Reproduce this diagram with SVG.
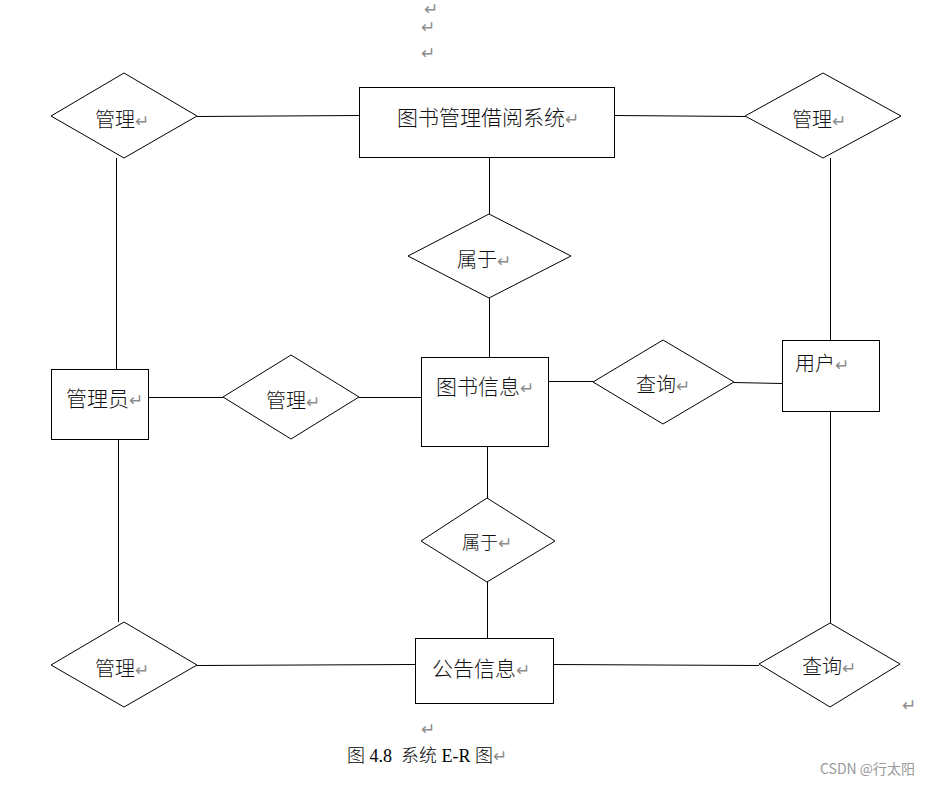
<svg xmlns="http://www.w3.org/2000/svg" width="933" height="785" viewBox="0 0 933 785">
<style>
.ent{fill:#fff;stroke:#000;stroke-width:1}
.rel{fill:#fff;stroke:#000;stroke-width:1}
.ln{stroke:#000;stroke-width:1;fill:none}
.t{font-family:"Noto Sans CJK SC","Liberation Sans",sans-serif;font-weight:300;fill:#111}
.r{fill:#8c8c8c;font-family:"DejaVu Sans",sans-serif;font-size:17px;font-weight:normal}
.cap{font-family:"Liberation Serif","Noto Sans CJK SC",serif;font-size:18px;font-weight:300;fill:#000}
.wm{font-family:"Noto Sans CJK SC","Liberation Sans",sans-serif;font-size:14px;fill:#999}
</style>
<rect width="933" height="785" fill="#fff"/>
<g id="connectors">
<line class="ln" x1="197" y1="116.5" x2="359" y2="115.5"/>
<line class="ln" x1="615" y1="115.5" x2="745" y2="116.5"/>
<line class="ln" x1="116.5" y1="158" x2="116.5" y2="369"/>
<line class="ln" x1="830.5" y1="158" x2="830.5" y2="340"/>
<line class="ln" x1="489.5" y1="157" x2="489.5" y2="214"/>
<line class="ln" x1="489.5" y1="298" x2="489.5" y2="357"/>
<line class="ln" x1="148" y1="397.5" x2="223" y2="397.5"/>
<line class="ln" x1="359" y1="397.5" x2="421" y2="397.5"/>
<line class="ln" x1="548" y1="381.5" x2="593" y2="381.5"/>
<line class="ln" x1="734" y1="382.5" x2="782" y2="383.5"/>
<line class="ln" x1="487.5" y1="446" x2="487.5" y2="498"/>
<line class="ln" x1="487.5" y1="582" x2="487.5" y2="638"/>
<line class="ln" x1="118.5" y1="439" x2="118.5" y2="622"/>
<line class="ln" x1="830.5" y1="411" x2="830.5" y2="623"/>
<line class="ln" x1="197" y1="665.5" x2="415" y2="664.5"/>
<line class="ln" x1="553" y1="664.5" x2="759" y2="665.5"/>
</g>
<g id="n-system">
<rect class="ent" x="359.5" y="87.5" width="255" height="70"/>
<text class="t" x="397" y="124.5" font-size="21">图书管理借阅系统<tspan class="r">↵</tspan></text>
</g>
<g id="d-manage-tl">
<polygon class="rel" points="51,116 124,73 197,116 124,158"/>
<text class="t" x="95" y="126.5" font-size="20">管理<tspan class="r">↵</tspan></text>
</g>
<g id="d-manage-tr">
<polygon class="rel" points="745,116 823,73 901,116 823,158"/>
<text class="t" x="792" y="126.5" font-size="20">管理<tspan class="r">↵</tspan></text>
</g>
<g id="d-belong-1">
<polygon class="rel" points="408,256 489,214 571,256 489,298"/>
<text class="t" x="457" y="266.5" font-size="20">属于<tspan class="r">↵</tspan></text>
</g>
<g id="n-bookinfo">
<rect class="ent" x="421.5" y="357.5" width="127" height="89"/>
<text class="t" x="436" y="393.5" font-size="21">图书信息<tspan class="r">↵</tspan></text>
</g>
<g id="n-admin">
<rect class="ent" x="51.5" y="369.5" width="97" height="70"/>
<text class="t" x="66" y="406" font-size="21">管理员<tspan class="r">↵</tspan></text>
</g>
<g id="d-manage-mid">
<polygon class="rel" points="223,397 291,355 359,397 291,439"/>
<text class="t" x="266" y="408" font-size="20">管理<tspan class="r">↵</tspan></text>
</g>
<g id="d-query-mid">
<polygon class="rel" points="593,382 663,340 734,382 663,424"/>
<text class="t" x="636" y="391.5" font-size="20">查询<tspan class="r">↵</tspan></text>
</g>
<g id="n-user">
<rect class="ent" x="782.5" y="340.5" width="97" height="71"/>
<text class="t" x="795" y="370.5" font-size="20">用户<tspan class="r">↵</tspan></text>
</g>
<g id="d-belong-2">
<polygon class="rel" points="421,541 487,498 555,541 487,582"/>
<text class="t" x="462" y="549" font-size="18">属于<tspan class="r">↵</tspan></text>
</g>
<g id="n-notice">
<rect class="ent" x="415.5" y="638.5" width="138" height="65"/>
<text class="t" x="432" y="675.5" font-size="21">公告信息<tspan class="r">↵</tspan></text>
</g>
<g id="d-manage-bl">
<polygon class="rel" points="51,665 124,622 197,665 124,707"/>
<text class="t" x="95" y="676" font-size="20">管理<tspan class="r">↵</tspan></text>
</g>
<g id="d-query-br">
<polygon class="rel" points="759,664 830,623 900,664 830,707"/>
<text class="t" x="802" y="673.5" font-size="20">查询<tspan class="r">↵</tspan></text>
</g>
<text class="r" x="424" y="15" font-size="9">↵</text>
<text class="r" x="421" y="33">↵</text>
<text class="r" x="421" y="59">↵</text>
<text class="r" x="421" y="735">↵</text>
<text class="r" x="902" y="711">↵</text>
<text class="cap" x="347" y="762" xml:space="preserve">图 4.8  系统 E-R 图<tspan class="r">↵</tspan></text>
<text class="wm" x="820" y="774">CSDN @行太阳</text>
</svg>
